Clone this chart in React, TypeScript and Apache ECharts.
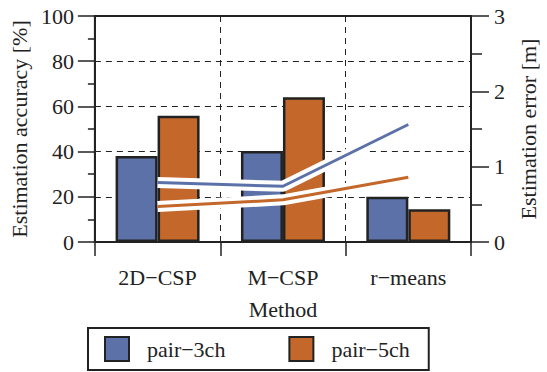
import React, { useEffect, useRef } from "react";
import * as echarts from "echarts";

const categories = ["2D\u2212CSP", "M\u2212CSP", "r\u2212means"];
const seriesNames = ["pair\u22123ch", "pair\u22125ch"];
const accuracy3ch = [38, 40.3, 20];
const accuracy5ch = [55.9, 64, 14.5];
const error3ch = [0.79, 0.74, 1.56];
const error5ch = [0.47, 0.56, 0.86];

const BLUE = "#5B71A7";
const ORANGE = "#C3682A";
const INK = "#222222";
const FONT = "Liberation Serif";

export default function App() {
  const ref = useRef<HTMLDivElement>(null);
  useEffect(() => {
    if (!ref.current) return;
    const chart = echarts.init(ref.current, undefined, { renderer: "svg" });
    const labelStyle = { fontFamily: FONT, fontSize: 22, color: INK };
    chart.setOption({
      animation: false,
      backgroundColor: "#ffffff",
      textStyle: { fontFamily: FONT },
      grid: {
        left: 94,
        right: 67,
        top: 16,
        bottom: 130,
        show: true,
        borderColor: INK,
        borderWidth: 2,
        backgroundColor: "transparent",
      },
      legend: {
        data: seriesNames,
        left: 88,
        top: 328,
        orient: "horizontal",
        icon: "rect",
        itemWidth: 24,
        itemHeight: 24,
        itemGap: 63,
        padding: [8, 19, 8, 16],
        borderColor: INK,
        borderWidth: 2,
        textStyle: { ...labelStyle, padding: [0, 0, 0, 13] },
      },
      xAxis: {
        type: "category",
        data: categories,
        name: "Method",
        nameLocation: "middle",
        nameGap: 56,
        nameTextStyle: labelStyle,
        axisLine: { show: true, lineStyle: { color: INK, width: 2 } },
        axisTick: { show: true, length: 14, inside: false, lineStyle: { color: INK, width: 1.5 } },
        axisLabel: { ...labelStyle, margin: 24, interval: 0 },
        splitLine: { show: true, lineStyle: { color: INK, width: 1, type: [6, 5] } },
      },
      yAxis: [
        {
          type: "value",
          min: 0,
          max: 100,
          interval: 20,
          position: "left",
          name: "Estimation accuracy [%]",
          nameLocation: "middle",
          nameRotate: 90,
          nameGap: 60,
          nameTextStyle: labelStyle,
          axisLine: { show: true, lineStyle: { color: INK, width: 2 } },
          axisTick: { show: true, length: 17, inside: false, lineStyle: { color: INK, width: 1.5 } },
          minorTick: { show: true, splitNumber: 2, length: 7, lineStyle: { color: INK, width: 1.5 } },
          axisLabel: { ...labelStyle, margin: 21 },
          splitLine: { show: true, lineStyle: { color: INK, width: 1, type: [6, 5] } },
        },
        {
          type: "value",
          min: 0,
          max: 3,
          interval: 1,
          position: "right",
          name: "Estimation error [m]",
          nameLocation: "middle",
          nameRotate: 90,
          nameGap: 46,
          nameTextStyle: labelStyle,
          axisLine: { show: true, lineStyle: { color: INK, width: 2 } },
          axisTick: { show: true, length: 18, inside: false, lineStyle: { color: INK, width: 1.5 } },
          minorTick: { show: true, splitNumber: 2, length: 11, lineStyle: { color: INK, width: 1.5 } },
          axisLabel: { ...labelStyle, margin: 23 },
          splitLine: { show: false },
        },
      ],
      series: [
        {
          name: seriesNames[0],
          type: "bar",
          yAxisIndex: 0,
          data: accuracy3ch,
          barGap: "0%",
          barCategoryGap: "33%",
          itemStyle: { color: BLUE, borderColor: INK, borderWidth: 2.5 },
        },
        {
          name: seriesNames[1],
          type: "bar",
          yAxisIndex: 0,
          data: accuracy5ch,
          barGap: "0%",
          barCategoryGap: "33%",
          itemStyle: { color: ORANGE, borderColor: INK, borderWidth: 2.5 },
        },
        {
          name: "halo-3ch",
          type: "line",
          yAxisIndex: 1,
          data: error3ch,
          symbol: "none",
          silent: true,
          lineStyle: { color: "#ffffff", width: 11 },
        },
        {
          name: "halo-5ch",
          type: "line",
          yAxisIndex: 1,
          data: error5ch,
          symbol: "none",
          silent: true,
          lineStyle: { color: "#ffffff", width: 11 },
        },
        {
          name: "error " + seriesNames[0],
          type: "line",
          yAxisIndex: 1,
          data: error3ch,
          symbol: "none",
          lineStyle: { color: BLUE, width: 3 },
        },
        {
          name: "error " + seriesNames[1],
          type: "line",
          yAxisIndex: 1,
          data: error5ch,
          symbol: "none",
          lineStyle: { color: ORANGE, width: 3 },
        },
      ],
    });
    return () => chart.dispose();
  }, []);
  return (
    <div
      ref={ref}
      style={{ position: "fixed", left: 0, top: 0, width: 547, height: 372 }}
    />
  );
}
